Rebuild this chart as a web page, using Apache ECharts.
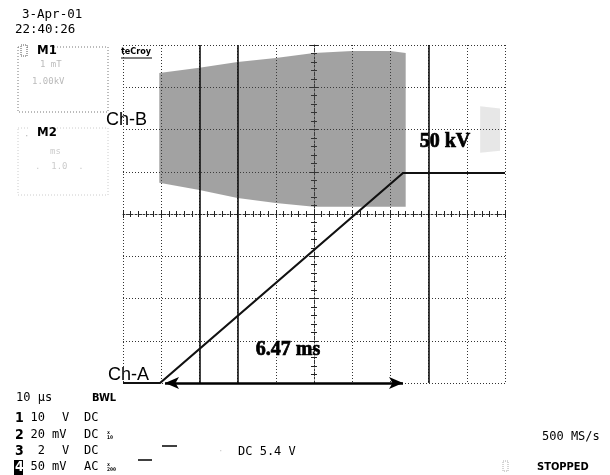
<!DOCTYPE html>
<html><head><meta charset="utf-8">
<script src="https://cdn.jsdelivr.net/npm/echarts@6/dist/echarts.min.js"></script>
<style>html,body{margin:0;padding:0;background:#fff}#c{width:610px;height:475px}</style>
</head><body><div id="c"></div>
<script>
// Screen divisions: x -5..5 (10 div), y -4..4 (8 div)
const traceX = [-5, -4.03, 2.33, 5];
const traceY = [-4, -4, 0.97, 0.97];
const bandX = [-4.05, -3, -2, -1, 0, 1, 2, 2.4];
const bandTop = [3.34, 3.46, 3.6, 3.69, 3.81, 3.86, 3.86, 3.81];
const bandBottom = [0.74, 0.57, 0.38, 0.26, 0.17, 0.17, 0.17, 0.17];
const faintX = [4.35, 4.87];
const faintTop = [2.55, 2.5];
const faintBottom = [1.45, 1.5];
const arrowX = [-3.9, 2.33];
const arrowY = -4;
const solidDivLines = [-3, -2, 3];
const noteText = ['50 kV', '6.47 ms'];
const noteX = [3.43, -0.68];
const noteY = [1.71, -3.21];
const chanNum = ['1', '2', '3', '4'];
const chanVal = ['10', '20', '2', '50'];
const chanUnit = ['V', 'mV', 'V', 'mV'];
const chanCpl = ['DC', 'DC', 'DC', 'AC'];
const chanProbe = ['', 'x\n10', '', 'x\n200'];

const chart = echarts.init(document.getElementById('c'), null, {renderer: 'canvas'});
const dot = [1, 2];

function txt(x, y, s, opt) {
  return Object.assign({type: 'text', x: x, y: y, silent: true,
    style: Object.assign({text: s, fill: '#000', font: '12px "DejaVu Sans Mono"', textVerticalAlign: 'middle'}, opt || {})});
}

const bands = [
  {x: bandX, top: bandTop, bot: bandBottom, fill: 'rgba(70,70,70,0.5)'},
  {x: faintX, top: faintTop, bot: faintBottom, fill: 'rgba(120,120,120,0.18)'}
];

const rowY = [418, 435, 451, 467];
const chanGraphics = [];
chanNum.forEach((n, i) => {
  if (i === 3) chanGraphics.push({type: 'rect', silent: true, shape: {x: 14, y: rowY[i] - 7, width: 9, height: 15}, style: {fill: '#000'}});
  chanGraphics.push(txt(15, rowY[i], n, {font: 'bold 14px "DejaVu Sans Condensed"', fill: i === 3 ? '#fff' : '#000'}));
  chanGraphics.push(txt(45, rowY[i], chanVal[i], {font: '12px "DejaVu Sans Mono"', textAlign: 'right'}));
  chanGraphics.push(txt(chanUnit[i] === 'V' ? 62 : 52, rowY[i], chanUnit[i], {font: '12px "DejaVu Sans Mono"'}));
  chanGraphics.push(txt(84, rowY[i], chanCpl[i], {font: '12px "DejaVu Sans Mono"'}));
  if (chanProbe[i]) chanGraphics.push(txt(107, rowY[i], chanProbe[i], {font: 'bold 5px "DejaVu Sans Mono"', lineHeight: 5}));
});

const option = {
  backgroundColor: '#fff',
  animation: false,
  grid: {left: 123, top: 45, width: 382, height: 338, show: false},
  xAxis: [
    {type: 'value', min: -5, max: 5, interval: 1, position: 'bottom',
     axisLine: {show: true, onZero: true, lineStyle: {color: '#333', width: 1, type: [2, 2]}},
     axisTick: {show: true, inside: true, length: 4, lineStyle: {color: '#222'}},
     minorTick: {show: true, splitNumber: 5, length: 3, lineStyle: {color: '#222'}},
     axisLabel: {show: false},
     splitLine: {show: true, lineStyle: {color: '#333', width: 1, type: dot}}},
    {type: 'value', min: -5, max: 5, interval: 1, position: 'top',
     axisLine: {show: false, onZero: true},
     axisTick: {show: true, inside: true, length: 4, lineStyle: {color: '#222'}},
     minorTick: {show: true, splitNumber: 5, length: 3, lineStyle: {color: '#222'}},
     axisLabel: {show: false}, splitLine: {show: false}}
  ],
  yAxis: [
    {type: 'value', min: -4, max: 4, interval: 1, position: 'left',
     axisLine: {show: true, onZero: true, lineStyle: {color: '#333', width: 1, type: [2, 2]}},
     axisTick: {show: true, inside: true, length: 4, lineStyle: {color: '#222'}},
     minorTick: {show: true, splitNumber: 5, length: 3, lineStyle: {color: '#222'}},
     axisLabel: {show: false},
     splitLine: {show: true, lineStyle: {color: '#333', width: 1, type: dot}}},
    {type: 'value', min: -4, max: 4, interval: 1, position: 'right',
     axisLine: {show: false, onZero: true},
     axisTick: {show: true, inside: true, length: 4, lineStyle: {color: '#222'}},
     minorTick: {show: true, splitNumber: 5, length: 3, lineStyle: {color: '#222'}},
     axisLabel: {show: false}, splitLine: {show: false}}
  ],
  series: [
    {type: 'custom', xAxisIndex: 0, yAxisIndex: 0, silent: true, z: 1,
     data: bands.map((b, i) => [b.x[0], b.top[0], i]),
     renderItem: function (params, api) {
       const b = bands[params.dataIndex];
       const pts = [];
       for (let i = 0; i < b.x.length; i++) pts.push(api.coord([b.x[i], b.top[i]]));
       for (let i = b.x.length - 1; i >= 0; i--) pts.push(api.coord([b.x[i], b.bot[i]]));
       return {type: 'polygon', shape: {points: pts}, style: {fill: b.fill}};
     }},
    {type: 'line', xAxisIndex: 0, yAxisIndex: 0, silent: true, z: 3,
     data: traceX.map((x, i) => [x, traceY[i]]),
     symbol: 'none', lineStyle: {color: '#111', width: 2.2},
     markLine: {silent: true, symbol: ['none', 'none'], label: {show: false},
       lineStyle: {color: '#111', width: 1.6, type: 'solid'},
       data: solidDivLines.map(v => ({xAxis: v}))}},
    {type: 'line', xAxisIndex: 0, yAxisIndex: 0, silent: true, z: 4,
     data: [], symbol: 'none',
     markLine: {silent: true, symbol: ['arrow', 'arrow'], symbolSize: [9, 14], label: {show: false},
       lineStyle: {color: '#000', width: 2.5, type: 'solid'},
       data: [[{coord: [arrowX[0], arrowY]}, {coord: [arrowX[1], arrowY]}]]}},
    {type: 'scatter', xAxisIndex: 0, yAxisIndex: 0, silent: true, z: 5,
     symbolSize: 0, itemStyle: {opacity: 1},
     data: noteText.map((t, i) => ({name: t, value: [noteX[i], noteY[i]]})),
     label: {show: true, position: 'inside', formatter: '{b}', color: '#000', opacity: 1,
       textBorderColor: '#000', textBorderWidth: 0.7,
       fontFamily: 'Liberation Serif', fontWeight: 'bold', fontSize: 20}}
  ],
  graphic: [
    txt(22, 15, '3-Apr-01', {font: '12.5px "DejaVu Sans Mono"'}),
    txt(15, 30, '22:40:26', {font: '12.5px "DejaVu Sans Mono"'}),
    // M1 box
    {type: 'rect', silent: true, shape: {x: 18, y: 47, width: 90, height: 65},
     style: {fill: 'none', stroke: '#777', lineWidth: 1, lineDash: [1, 2]}},
    {type: 'rect', silent: true, shape: {x: 21, y: 45, width: 6, height: 11},
     style: {fill: '#fff', stroke: '#555', lineWidth: 1, lineDash: [1, 1]}},
    {type: 'rect', silent: true, shape: {x: 30, y: 44, width: 24, height: 13}, style: {fill: '#fff'}},
    txt(37, 51, 'M1', {font: 'bold 13px "DejaVu Sans Condensed"'}),
    txt(40, 65, '1 mT', {font: '9px "DejaVu Sans Mono"', fill: '#bbb'}),
    txt(32, 82, '1.00kV', {font: '9px "DejaVu Sans Mono"', fill: '#bbb'}),
    // M2 box
    {type: 'rect', silent: true, shape: {x: 18, y: 128, width: 90, height: 67},
     style: {fill: 'none', stroke: '#ccc', lineWidth: 1, lineDash: [1, 2]}},
    {type: 'rect', silent: true, shape: {x: 30, y: 125, width: 26, height: 14}, style: {fill: '#fff'}},
    txt(37, 133, 'M2', {font: 'bold 13px "DejaVu Sans Condensed"'}),
    txt(24, 137, '·', {font: '9px "DejaVu Sans Mono"', fill: '#bbb'}),
    txt(50, 152, 'ms', {font: '9px "DejaVu Sans Mono"', fill: '#ccc'}),
    txt(35, 167, '.  1.0  .', {font: '9px "DejaVu Sans Mono"', fill: '#ccc'}),
    // LeCroy
    txt(121, 52, 'teCroy', {font: 'bold 9px "DejaVu Sans Condensed"'}),
    {type: 'line', silent: true, shape: {x1: 121, y1: 58, x2: 152, y2: 58}, style: {stroke: '#000', lineWidth: 1}},
    // channel labels
    txt(106, 120, 'Ch-B', {font: '18px "Liberation Sans"'}),
    txt(108, 375, 'Ch-A', {font: '18px "Liberation Sans"'}),
    // bottom status
    txt(16, 398, '10 µs', {font: '12px "DejaVu Sans Mono"'}),
    txt(92, 398, 'BWL', {font: 'bold 11px "DejaVu Sans Condensed"'}),
    ...chanGraphics,
    {type: 'line', silent: true, shape: {x1: 162, y1: 446, x2: 177, y2: 446}, style: {stroke: '#000', lineWidth: 1.5}},
    {type: 'line', silent: true, shape: {x1: 138, y1: 460, x2: 152, y2: 460}, style: {stroke: '#000', lineWidth: 1.5}},
    txt(218, 452, '·', {font: '9px "DejaVu Sans Mono"', fill: '#ccc'}),
    txt(238, 452, 'DC 5.4 V', {font: '12px "DejaVu Sans Mono"'}),
    txt(542, 437, '500 MS/s', {font: '12px "DejaVu Sans Mono"'}),
    {type: 'rect', silent: true, shape: {x: 503, y: 461, width: 5, height: 10},
     style: {fill: 'none', stroke: '#aaa', lineWidth: 1, lineDash: [1, 1]}},
    txt(537, 467, 'STOPPED', {font: 'bold 11px "DejaVu Sans Condensed"'})
  ]
};
chart.setOption(option);
</script>
</body></html>
